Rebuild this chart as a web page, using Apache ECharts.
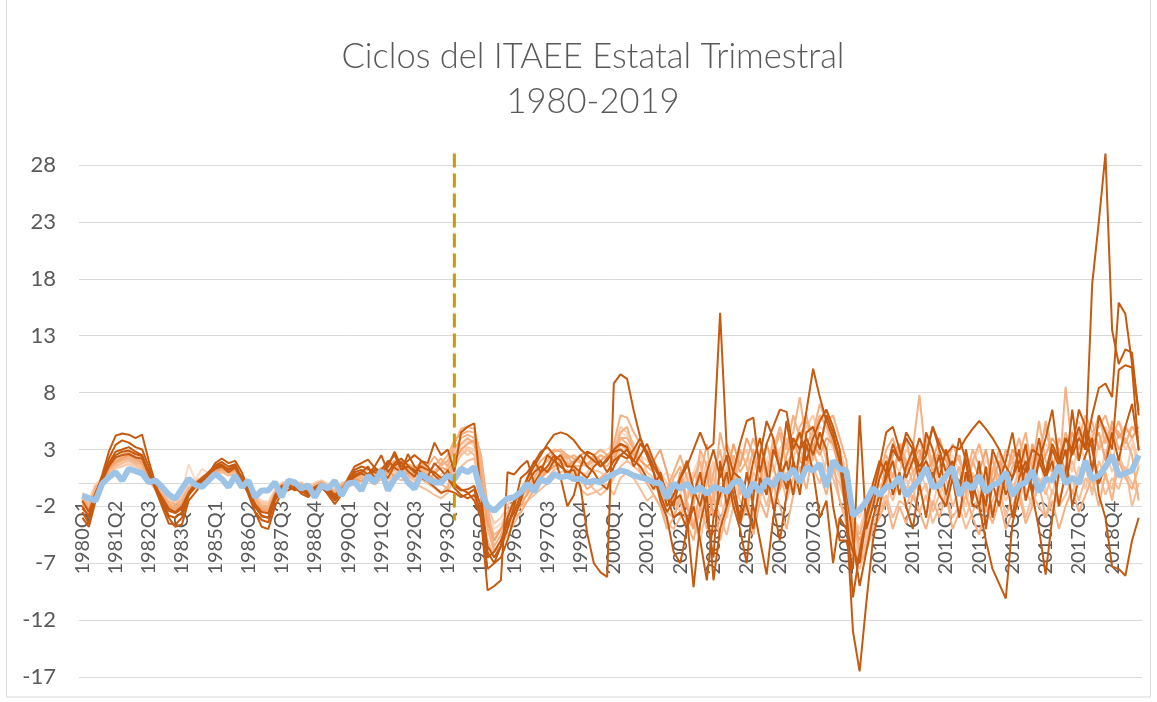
<!DOCTYPE html>
<html>
<head>
<meta charset="utf-8">
<title>Ciclos del ITAEE Estatal Trimestral</title>
<script src="https://cdn.jsdelivr.net/npm/echarts@6/dist/echarts.min.js"></script>
<style>
  html, body { margin: 0; padding: 0; background: #fff; }
  #chart { width: 1157px; height: 702px; }
</style>
</head>
<body>
<div id="chart"></div>
<script>
// trimestres 1980Q1 - 2019Q4
var quarters = [];
for (var y = 1980; y <= 2019; y++) {
  for (var q = 1; q <= 4; q++) quarters.push(y + 'Q' + q);
}
var yTicks = [-17, -12, -7, -2, 3, 8, 13, 18, 23, 28];
var breakQuarter = '1994Q1';
var breakRange = [29.0, -3.25];

// ciclo nacional (linea azul)
var nacional = [
  -1.05,-1.3,-1.5,0,0.55,1.0,0.27,1.3,1.1,0.9,0.12,0.27,-0.3,-0.95,-1.35,-0.45,0.42,-0.1,-0.3,0.27,
  0.86,0.42,-0.3,0.7,-0.3,0.27,-1.2,-0.6,-0.6,0.12,-1.2,0.27,0.1,-0.45,-0.15,-1.2,-0.15,-0.45,0.25,-1.05,
  0,0.1,-0.6,0.7,0.1,1.15,-0.6,0.4,1.0,0.1,-0.45,0.85,0.4,0.1,0.1,0.7,0.4,1.3,1.0,1.45,
  -0.8,-2.0,-2.4,-1.8,-1.3,-1.2,-0.75,0,-0.7,0.4,0.1,0.85,0.55,0.7,0.4,0.4,0.1,0.25,0.1,0.55,
  0.85,1.15,1.0,0.7,0.55,0.4,0.1,0.0,-1.3,0.0,-0.45,0.0,-0.75,-0.3,-0.9,-0.3,-0.45,-0.75,0.1,0.25,
  -1.2,0.1,-0.75,0.4,-0.2,0.85,0.4,1.3,0.1,1.45,1.15,1.75,-0.3,2.0,1.3,1.15,-2.8,-2.3,-1.6,-0.4,
  -1.0,-0.3,-0.2,0.6,-1.1,-0.3,0.3,1.4,-0.3,-0.17,0.7,1.45,-1.05,0.0,-0.45,0.7,-0.75,-0.15,0.1,1.0,
  -1.05,-0.15,0.1,1.15,-0.75,0.4,0.3,1.6,0.0,0.55,0.0,2.0,0.4,0.7,1.45,2.5,0.7,0.9,1.15,2.5
];

// ciclos estatales (tonos oscuros)
var estadoA = [
  -2.5,-3.5,-1.0,0.8,2.8,4.2,4.4,4.3,4.0,4.3, 2.0,0.0,-1.8,-3.0,-3.8,-3.6,-1.5,-0.8,0.0,0.8,
  1.8,2.2,1.8,2.0,1.0,-0.5,-2.5,-3.8,-4.0,-2.0, -0.8,-0.3,-0.5,-0.2,-1.0,-0.6,-0.4,-0.8,-1.5,-0.8,
  0.5,1.5,1.8,2.1,1.4,1.0,1.5,2.8,1.5,2.0, 2.5,2.0,1.8,3.6,2.5,3.0,1.0,4.5,5.0,5.3,
  -1.0,-6.0,-7.0,-6.5,-5.0,-3.0,-1.5,0.5,1.5,2.5, 3.5,4.3,4.5,4.3,3.8,3.0,2.5,2.0,1.5,2.2,
  2.8,3.0,2.5,2.0,3.5,2.8,1.5,0.5,-2.0,-1.0, 0.5,1.5,3.0,4.5,3.0,3.5,15.0,3.0,1.0,3.5,
  5.5,5.8,1.0,3.5,5.0,6.5,6.3,3.0,4.5,2.0, 4.0,5.5,6.5,5.0,3.0,-2.0,-10.0,-6.0,-3.0,0.0,
  2.0,1.0,3.5,2.0,4.0,3.0,1.5,2.5,5.0,3.5, 2.5,3.3,3.0,4.0,4.8,5.5,4.8,4.0,3.0,1.5,
  0.5,2.0,1.0,3.0,2.5,1.0,3.5,2.0,4.0,3.0, 5.0,3.0,17.5,23.0,29.0,13.5,10.5,11.8,11.5,6.0
];
var estadoB = [
  -3.0,-3.8,-1.5,0.5,2.2,3.4,3.8,3.6,3.2,3.0, 1.5,-0.5,-2.0,-3.5,-3.6,-3.0,-1.0,-0.3,0.2,1.0,
  1.6,1.9,1.5,1.7,0.5,-1.0,-2.5,-3.2,-3.4,-1.5, -0.5,-0.6,-0.3,-0.9,-1.2,-0.5,-0.2,-1.0,-1.8,-1.0,
  0.2,1.2,1.5,1.3,1.0,0.8,1.8,2.5,1.2,1.5, 1.2,0.5,0.2,-0.3,-0.8,-0.6,-0.8,-1.2,-0.9,-0.5,
  -3.0,-9.4,-9.0,-8.5,1.0,0.8,1.5,2.0,0.0,1.0, 2.5,2.0,1.5,1.0,1.2,-0.3,-4.4,-7.0,-7.8,-8.2,
  8.8,9.6,9.2,6.4,4.0,2.5,1.0,-1.0,-2.5,-1.5, -1.0,-3.0,-9.1,-3.5,-1.0,-8.5,-4.0,-2.0,1.0,0.5,
  -2.0,-4.0,0.5,-1.0,3.0,1.5,-0.5,4.0,3.0,6.4, 10.1,7.6,5.5,4.0,2.0,-3.0,-13.0,-16.5,-10.5,-5.0,
  -2.0,1.0,3.0,2.0,4.5,3.5,1.0,2.0,0.5,2.5, -1.0,1.5,0.0,2.0,-2.0,-2.0,-5.0,-7.5,-8.8,-10.1,
  -3.5,-1.0,1.5,-0.5,2.0,0.5,3.0,1.5,4.0,2.5, 4.0,3.0,6.0,8.4,8.8,7.6,15.9,14.9,10.5,6.4
];
var estadoC = [
  -2.0,-3.0,-1.0,0.5,1.8,2.8,3.0,3.2,2.8,2.5, 1.0,-0.5,-1.5,-2.8,-3.0,-2.5,-1.0,0.0,0.5,1.0,
  1.5,1.7,1.2,1.5,0.3,-0.8,-2.0,-2.8,-3.0,-1.2, -0.3,-0.1,-0.4,-0.7,-1.0,-0.3,0.0,-0.6,-1.3,-0.6,
  0.3,1.0,1.2,0.8,1.5,2.5,1.0,1.8,2.2,1.6, 1.0,1.5,1.2,1.0,0.5,0.8,0.0,-0.5,-0.8,-1.5,
  -3.0,-7.5,-7.0,-5.5,-4.0,-2.0,0.5,1.0,1.8,2.8, 3.2,2.5,0.5,-2.0,-1.0,1.5,2.8,2.5,1.5,2.0,
  3.0,3.5,3.2,1.5,2.5,3.5,2.0,0.5,-1.0,-3.0, -2.5,-4.0,-1.0,1.0,-3.0,-6.5,2.0,-2.0,0.0,-3.0,
  1.0,-2.0,-5.0,-8.0,-3.0,0.5,2.0,-1.0,3.0,4.0, 2.5,4.5,3.0,-2.0,-5.0,-5.0,-7.5,6.0,-4.0,-2.0,
  0.5,2.0,-1.0,1.0,-2.0,-4.0,0.0,-3.0,1.0,-1.0, -2.0,0.5,-3.0,1.0,-1.5,2.0,-4.0,0.0,-2.0,1.0,
  -3.0,0.5,2.0,-1.0,-4.0,-8.0,-3.0,1.0,3.0,-2.0, 0.5,2.5,4.0,-1.0,-3.0,-7.3,-7.5,-8.1,-5.0,-3.0
];
var estadoD = [
  -1.5,-2.5,-0.8,0.5,1.5,2.3,2.5,2.6,2.3,2.2, 0.8,-0.3,-1.2,-2.2,-2.5,-2.0,-0.8,0.0,0.3,0.8,
  1.3,1.5,1.0,1.4,0.4,-0.6,-1.8,-2.5,-2.6,-1.0, -0.2,-0.2,-0.5,-0.3,-0.8,-0.4,-0.1,-0.4,-1.0,-0.5,
  0.2,0.8,1.0,1.5,0.5,1.2,2.0,1.4,1.0,2.6, 1.5,1.0,0.6,1.8,1.2,0.5,-0.4,-1.0,-1.3,-1.0,
  -2.5,-6.5,-6.0,-5.0,-3.5,-2.5,-1.0,0.5,2.0,1.0, 1.5,2.5,2.0,0.5,1.8,2.5,1.5,1.0,0.0,-0.5,
  1.5,2.5,2.2,3.0,4.0,2.5,1.0,-1.5,-3.0,-6.0, -7.0,-4.0,-2.0,-5.0,-8.5,-3.0,-1.0,1.0,-2.0,-4.0,
  -7.0,-1.0,2.5,5.5,4.0,1.0,5.5,2.0,-1.0,3.5, 1.0,-3.0,-1.5,-7.0,-3.0,-4.0,-6.0,-7.0,-3.0,-1.0,
  1.5,4.5,5.0,3.0,0.5,2.0,4.0,2.5,5.0,3.0, 1.0,2.0,-1.0,3.0,0.0,-2.0,1.5,-3.0,0.0,2.0,
  4.5,1.0,3.5,-1.0,2.0,4.0,6.5,2.0,0.0,3.0, 6.5,5.0,1.0,6.0,4.5,3.0,10.0,10.4,10.2,2.9
];
var estadoE = [
  -2.2,-2.8,-1.2,0.2,1.6,2.5,2.8,2.9,2.6,2.4, 1.0,-0.2,-1.4,-2.4,-2.6,-2.2,-1.0,-0.2,0.4,0.9,
  1.4,1.6,1.3,1.6,0.5,-0.7,-2.0,-2.9,-3.0,-1.3, -0.4,-0.3,-0.6,-0.4,-1.1,-0.6,-0.2,-0.7,-1.2,-0.7,
  0.0,0.6,0.9,0.6,1.2,1.0,0.5,1.6,1.9,1.1, 0.6,2.0,1.5,0.7,0.2,1.2,-0.2,-0.6,-0.5,-0.2,
  -2.0,-5.5,-6.5,-5.5,-3.0,-1.5,-1.0,0.0,1.0,1.5, 1.0,2.0,2.5,1.5,1.5,1.0,0.5,1.5,2.0,1.0,
  2.0,2.5,3.0,2.0,1.5,0.5,-0.5,1.0,-1.0,-2.0, 0.5,2.0,-0.5,-2.0,1.0,3.0,0.5,2.5,-1.0,-3.5,
  -1.0,2.0,4.0,1.0,-2.0,-5.0,-1.0,2.0,0.0,4.5, 5.0,3.0,6.0,4.5,2.0,-0.5,-5.0,-9.0,-6.0,-3.0,
  -1.0,0.5,2.0,-1.0,1.5,3.0,0.0,4.5,3.0,0.5, 3.0,1.0,4.0,2.0,-1.0,0.5,-2.0,3.0,1.5,-1.0,
  0.5,3.0,-1.5,1.0,4.0,0.5,2.0,-2.0,1.0,6.5, 2.0,5.0,3.0,0.0,1.5,4.5,2.0,5.0,7.0,3.0
];

// ciclos estatales (tonos claros)
var estadoF = [
  -1.8,-2.3,-0.6,0.4,1.4,2.0,2.3,2.4,2.1,1.9, 0.6,-0.3,-1.0,-1.8,-2.0,-1.7,-0.6,0.1,0.4,0.8,
  1.2,1.4,1.1,1.3,0.4,-0.5,-1.6,-2.2,-2.3,-0.9, -0.2,0.0,-0.4,-0.2,-0.7,-0.3,0.0,-0.4,-1.1,-0.4,
  0.1,0.5,0.7,0.9,0.6,1.0,1.4,1.8,1.0,1.3, 1.0,1.4,1.0,1.6,2.2,1.5,3.0,4.0,4.3,4.0,
  1.5,-3.0,-5.5,-4.5,-3.0,-2.0,-1.2,-0.5,0.5,1.5, 2.0,2.8,3.0,2.5,2.2,1.8,1.5,2.0,2.5,2.2,
  3.5,6.0,5.8,4.5,3.5,2.5,1.5,0.5,-0.5,1.0, 2.5,0.5,-2.0,3.0,1.5,-1.0,4.5,2.0,0.0,3.0,
  1.5,-1.5,2.5,0.5,4.0,2.0,3.5,4.5,7.6,3.5, 4.5,6.0,5.0,3.5,1.0,-1.0,-4.0,-5.5,-3.0,-1.5,
  0.5,3.0,4.0,2.0,1.0,3.0,7.8,2.0,0.5,1.5, 2.5,0.0,1.5,-1.0,2.0,0.5,-2.0,1.0,3.0,-0.5,
  1.5,2.5,4.5,1.0,3.0,5.0,2.0,0.5,8.5,3.0, 2.0,4.5,5.5,3.0,4.0,5.0,4.5,3.5,5.0,4.0
];
var estadoG = [
  -1.2,-2.0,-0.3,0.3,1.2,1.8,2.0,2.2,1.9,1.7, 0.4,-0.2,-0.9,-1.6,-1.8,-1.4,-0.4,0.0,0.3,0.7,
  1.0,1.2,1.0,1.1,0.3,-0.4,-1.3,-1.9,-2.0,-0.8, -0.1,0.1,-0.2,-0.1,-0.6,-0.2,0.1,-0.3,-0.8,-0.2,
  -0.2,0.3,0.5,0.4,1.0,0.7,0.9,1.2,1.6,0.8, 0.5,1.2,0.8,0.4,0.0,-0.5,2.5,3.5,4.0,3.5,
  1.0,-4.0,-6.0,-5.0,-3.5,-2.5,-1.5,-1.0,0.0,0.8, 1.5,2.0,2.2,1.8,1.6,1.5,1.8,2.2,1.8,1.5,
  2.5,4.5,5.0,3.0,2.0,1.5,1.0,-0.5,-2.0,-1.0, 0.0,2.0,-1.0,0.5,3.5,-1.5,1.0,3.5,2.0,-1.0,
  0.5,3.0,1.0,-1.0,2.5,4.5,1.5,3.0,5.0,6.0, 3.0,5.5,6.5,4.0,2.5,0.5,-2.5,-6.0,-4.0,-2.0,
  -1.0,1.5,0.5,3.5,2.0,0.0,2.5,4.0,1.5,3.0, 1.0,3.5,2.0,0.5,3.0,1.5,0.0,2.5,-1.0,1.0,
  2.0,0.5,3.0,1.5,5.5,2.0,1.0,4.0,2.5,3.5, 4.5,3.0,4.0,6.0,3.5,5.0,3.0,4.0,2.5,-1.5
];
var estadoH = [
  -1.0,-1.6,-0.2,0.5,1.0,1.6,1.8,2.0,1.8,1.5, 0.5,0.0,-0.6,-1.3,-1.5,-1.1,-0.2,0.2,0.6,0.9,
  1.1,1.3,0.9,1.0,0.4,-0.3,-1.1,-1.7,-1.8,-0.6, 0.0,0.2,-0.1,0.1,-0.4,0.0,0.2,-0.2,-0.6,0.0,
  0.0,0.4,0.6,0.9,0.7,1.3,0.8,1.0,1.3,1.0, 0.7,0.9,0.5,0.2,0.8,1.5,3.5,3.0,2.5,3.0,
  2.5,-2.0,-3.5,-3.0,-2.0,-1.0,-1.5,-0.2,0.5,1.2, 1.0,1.8,2.6,2.0,1.2,0.5,1.0,1.8,2.5,2.0,
  3.0,5.0,4.5,3.5,2.5,1.0,0.5,1.0,0.0,-1.5, -2.5,-1.0,1.0,-0.5,2.0,0.5,-2.0,1.5,-0.5,2.0,
  3.0,0.0,-1.5,2.0,1.0,3.0,4.0,2.0,4.5,5.0, 6.0,4.0,3.0,5.0,3.0,1.0,-3.0,-4.0,-2.0,-0.5,
  1.0,-0.5,2.0,1.0,3.0,2.5,0.5,1.0,2.5,-0.5, -2.0,0.5,1.0,-1.0,0.5,-2.5,-1.0,1.5,0.0,-1.5,
  0.0,-2.0,1.0,2.5,0.0,1.0,-1.0,2.0,3.0,1.0, 3.5,2.0,1.0,3.5,5.0,2.0,4.5,3.0,4.0,2.0
];
var estadoI = [
  -1.3,-1.8,-0.5,0.2,1.1,1.7,2.1,2.3,2.0,1.6, 0.3,-0.4,-1.1,-1.9,-2.1,-1.6,-0.7,-0.2,0.2,0.6,
  0.9,1.1,0.8,0.9,0.2,-0.6,-1.5,-2.0,-2.1,-1.0, -0.3,-0.1,-0.3,-0.2,-0.9,-0.5,-0.1,-0.5,-0.9,-0.3,
  0.1,0.2,0.3,0.5,0.3,0.6,0.4,0.7,0.9,0.6, 0.3,0.4,0.0,-0.4,-0.9,-0.2,1.5,2.5,3.0,2.5,
  0.0,-3.5,-4.5,-4.0,-3.5,-2.8,-2.0,-1.5,-0.5,0.0, 0.5,1.2,1.5,1.0,0.8,0.5,0.2,-0.5,-1.0,-0.5,
  0.5,1.5,2.0,1.5,1.0,0.5,0.0,-1.0,-2.5,-3.0, -1.5,-3.0,-4.0,-2.0,-0.5,-2.5,-3.5,-1.0,1.5,0.0,
  -2.0,1.0,0.0,-2.0,0.5,1.0,-1.5,0.5,2.0,3.5, 2.0,4.5,2.0,1.0,0.0,-2.0,-5.0,-7.0,-5.0,-3.0,
  -2.0,0.0,-1.5,0.5,-0.5,1.0,-1.0,0.0,-2.5,-1.0, 0.5,-2.0,-0.5,-3.0,-1.0,0.5,-2.5,-1.5,0.0,-3.0,
  -1.0,1.5,-0.5,-2.0,0.5,-1.0,1.0,-1.5,0.5,2.0, 0.0,1.5,-1.0,2.0,0.5,-0.5,2.5,1.0,0.0,-1.0
];
var estadoJ = [
  -1.6,-2.2,-0.9,0.1,1.3,1.9,2.2,2.5,2.2,1.8, 0.5,-0.4,-1.3,-2.0,-2.2,-1.8,-0.8,-0.1,0.3,0.7,
  1.1,1.3,1.0,1.2,0.3,-0.6,-1.7,-2.3,-2.4,-1.1, -0.3,0.0,-0.3,-0.2,-0.8,-0.4,0.0,-0.3,-1.0,-0.3,
  0.0,0.4,0.2,0.6,0.4,0.8,1.2,0.6,0.8,0.9, 0.9,0.6,0.3,0.9,1.4,1.2,2.0,3.0,3.5,3.8,
  0.5,-3.5,-5.0,-4.0,-3.0,-2.0,-2.0,-0.8,0.0,0.5, 1.2,1.5,1.8,1.5,2.0,2.5,2.8,2.5,2.0,2.5,
  2.0,3.5,3.0,2.5,2.0,1.5,2.0,3.0,1.0,-1.5, 1.0,-2.0,-4.0,-0.5,1.0,-3.0,-1.0,0.5,3.5,1.5,
  4.0,2.5,0.0,3.5,1.5,-0.5,2.5,4.0,2.0,1.5, 3.5,2.5,4.0,3.5,1.5,-1.0,-3.5,-5.0,-3.5,-1.0,
  2.0,0.0,2.5,3.5,1.5,2.0,3.0,1.0,2.0,4.0, 2.0,1.0,-1.0,2.5,0.5,1.0,3.0,0.0,2.0,0.5,
  3.0,2.0,0.0,3.5,1.5,2.5,4.0,3.0,1.0,4.5, 3.0,5.0,3.5,4.5,2.0,5.5,4.0,5.0,4.0,5.0
];
var estadoK = [
  -0.8,-1.4,0.0,0.4,0.9,1.4,1.6,1.8,1.6,1.4, 0.6,0.1,-0.4,-1.0,-1.2,-0.8,1.7,0.3,1.3,0.9,
  1.0,1.1,0.9,1.0,0.5,-0.2,-1.0,-1.5,-1.6,-0.5, 0.1,0.2,0.0,0.1,-0.3,0.1,0.3,0.0,-0.5,0.1,
  0.2,0.5,0.8,0.7,0.9,1.1,1.0,0.8,1.2,1.5, 1.2,1.0,0.8,1.2,1.5,2.0,2.8,3.3,3.8,3.2,
  0.5,-2.5,-4.0,-3.5,-2.5,-1.5,-0.5,0.2,0.8,1.5, 2.0,2.2,2.5,2.0,1.8,2.0,2.2,2.5,2.8,3.0,
  3.5,4.5,4.2,3.0,2.5,2.0,1.5,0.5,1.0,0.5, 1.5,0.0,1.0,2.5,0.5,1.5,2.0,0.0,1.0,2.5,
  2.0,1.0,3.0,2.0,3.5,2.5,4.0,3.0,4.5,5.0, 4.0,5.0,4.5,3.0,2.0,0.0,-2.0,-3.0,-1.5,0.0,
  1.0,2.0,1.5,2.5,3.0,2.0,3.5,2.5,3.0,2.0, 1.5,2.5,1.0,2.0,1.5,3.0,2.0,1.0,2.5,1.5,
  2.5,1.5,3.0,2.0,2.5,3.5,2.5,4.0,3.0,4.5, 5.5,3.5,4.5,3.0,5.0,4.0,5.5,4.5,5.0,4.5
];
var estadoL = [
  -2.0,-2.6,-1.0,0.0,1.0,1.5,1.8,2.0,1.7,1.3, 0.2,-0.5,-1.2,-2.0,-2.3,-1.9,-1.0,-0.4,0.1,0.5,
  0.8,1.0,0.7,0.8,0.0,-0.8,-1.8,-2.4,-2.5,-1.2, -0.4,-0.2,-0.5,-0.3,-1.0,-0.6,-0.2,-0.6,-1.2,-0.7,
  -0.3,0.0,0.2,0.3,-0.1,0.4,0.1,0.5,0.3,0.4, 0.0,-0.3,-0.6,-1.0,-1.3,-0.8,0.5,1.5,2.0,2.2,
  -1.0,-5.0,-6.5,-5.5,-4.5,-3.5,-2.5,-1.5,-1.0,-0.5, 0.0,0.5,1.0,1.2,0.8,-0.5,-1.0,-0.8,-0.5,0.0,
  -1.0,0.5,1.0,0.5,-0.5,-1.5,-1.0,-2.0,-3.5,-4.0, -3.0,-1.5,-3.5,-5.0,-2.0,-1.0,-3.0,-4.5,-2.0,-0.5,
  -1.5,-3.0,-1.0,0.0,-2.0,-0.5,1.0,-1.0,0.5,2.0, 1.5,0.0,2.0,0.5,-1.5,-3.5,-6.5,-7.5,-5.5,-3.5,
  -2.5,-1.0,-3.0,-1.5,-2.0,-0.5,-2.5,-1.0,-3.5,-2.0, -1.0,-3.0,-2.0,-4.0,-2.5,-1.0,-3.5,-2.0,-1.0,-2.5,
  -2.0,-0.5,-3.0,-1.0,-2.0,-3.0,-0.5,-2.0,-1.0,0.5, -1.5,0.5,-0.5,1.0,-1.0,0.5,-0.5,1.5,-2.0,0.0
];
var estadoM = [
  -1.4,-2.1,-0.7,0.3,1.3,2.0,2.4,2.6,2.3,2.0, 0.7,-0.2,-1.1,-1.9,-2.1,-1.6,-0.5,0.1,0.5,0.9,
  1.3,1.5,1.2,1.4,0.6,-0.4,-1.5,-2.1,-2.2,-0.9, -0.1,0.1,-0.3,0.0,-0.5,-0.1,0.2,-0.2,-0.7,-0.1,
  0.3,0.7,1.0,1.2,0.9,1.4,1.1,1.5,2.0,1.4, 1.2,1.6,1.3,0.9,1.8,2.5,3.8,4.3,4.6,4.5,
  2.0,-2.5,-5.0,-4.0,-2.5,-1.5,-0.5,0.5,1.0,2.0, 2.5,3.0,2.8,2.2,2.5,2.0,1.5,2.5,3.0,2.5,
  3.0,4.0,3.5,2.5,3.5,3.0,2.0,1.0,-1.5,0.5, 1.5,-1.5,0.5,2.0,-2.0,1.0,3.0,-0.5,2.5,1.0,
  2.0,4.0,2.0,1.0,3.0,5.0,3.0,6.0,4.0,5.5, 4.5,7.0,5.5,6.0,4.0,2.0,-3.0,-4.5,-2.5,-1.0,
  1.5,2.5,0.5,3.0,4.0,1.0,2.0,3.5,1.0,2.5, 3.0,1.5,2.5,0.0,2.0,3.5,1.0,2.0,0.5,3.0,
  2.0,4.0,1.5,3.0,2.0,5.5,3.0,2.0,4.5,3.0, 4.0,6.0,4.5,5.0,6.0,4.0,5.5,3.5,5.0,4.5
];
var estadoN = [
  -0.9,-1.5,-0.4,0.2,0.8,1.3,1.5,1.7,1.5,1.2, 0.3,-0.2,-0.8,-1.4,-1.6,-1.2,-0.5,0.0,0.3,0.6,
  0.9,1.0,0.8,0.9,0.3,-0.4,-1.2,-1.6,-1.7,-0.7, -0.2,0.0,-0.2,0.0,-0.5,-0.2,0.1,-0.2,-0.7,-0.2,
  0.0,0.3,0.5,0.6,0.5,0.8,0.6,0.9,1.1,0.8, 0.6,0.8,0.6,0.4,0.2,0.6,2.0,2.8,3.2,3.0,
  1.0,-3.0,-4.5,-4.0,-3.0,-2.0,-1.0,-0.5,0.3,0.8, 1.2,1.5,2.0,1.7,1.5,1.0,0.8,1.2,1.0,0.5,
  1.5,3.0,3.5,2.5,1.5,1.0,0.5,0.0,-1.0,-2.0, -1.0,1.0,-2.0,-3.0,0.0,2.0,-1.5,-3.0,0.5,-1.5,
  -2.5,0.0,1.5,-0.5,-2.0,2.0,0.5,-1.0,3.0,1.5, 2.5,3.0,1.0,2.0,0.5,-1.5,-4.0,-6.5,-4.5,-2.0,
  0.0,-2.0,1.0,-1.0,0.5,-1.5,1.5,-0.5,-2.0,0.5, -1.5,1.0,-0.5,-2.0,1.0,-1.0,0.5,-2.5,-0.5,1.0,
  -0.5,1.0,-1.5,0.5,2.5,-0.5,-2.5,0.5,1.5,-1.0, 1.5,-0.5,2.0,0.0,3.0,1.0,2.5,0.5,3.5,1.5
];
var estadoO = [
  -1.9,-2.4,-1.1,0.2,1.5,2.2,2.6,2.8,2.4,2.1, 0.8,-0.3,-1.4,-2.2,-2.4,-2.0,-0.9,-0.2,0.3,0.8,
  1.2,1.5,1.2,1.5,0.6,-0.5,-1.7,-2.4,-2.6,-1.2, -0.4,-0.2,-0.4,-0.3,-0.9,-0.5,-0.1,-0.6,-1.0,-0.4,
  -0.1,0.6,0.9,0.8,1.3,0.9,1.6,2.0,1.4,1.7, 1.4,1.8,1.5,2.4,1.6,2.0,3.5,4.8,5.0,4.8,
  2.5,-2.0,-6.0,-5.5,-4.0,-3.0,-2.5,-1.5,-0.5,0.5, 1.0,1.5,2.0,2.5,1.5,0.5,-0.5,0.0,0.5,1.0,
  2.0,4.0,4.0,3.0,1.0,0.0,-1.0,-2.0,-4.0,-3.0, -1.0,-3.5,-5.0,-2.0,-4.0,-1.0,-5.0,-2.5,-1.0,-3.5,
  -2.0,-4.5,-1.5,-3.0,0.0,-2.0,-4.0,-1.0,1.5,-0.5, 3.0,1.0,-1.0,2.0,-1.5,-3.0,-5.5,-7.0,-6.0,-4.0,
  -3.0,-1.5,-4.0,-2.0,-3.5,-1.0,-2.5,-4.0,-1.5,-3.0, -1.0,-4.0,-2.5,-1.0,-3.0,-4.5,-2.0,-3.5,-1.5,-4.0,
  -2.5,-1.0,-3.5,-2.0,0.0,-3.0,-1.5,-4.0,-2.0,-0.5, -2.5,-1.0,0.5,-2.0,1.0,-1.5,2.0,0.5,-0.5,1.5
];

var claros = [
  { data: estadoK, color: '#FADAC4' },
  { data: estadoN, color: '#F8CBAD' },
  { data: estadoH, color: '#F8CBAD' },
  { data: estadoI, color: '#F6BE98' },
  { data: estadoL, color: '#F6BE98' },
  { data: estadoO, color: '#F4B183' },
  { data: estadoF, color: '#F4B183' },
  { data: estadoM, color: '#F4B183' },
  { data: estadoG, color: '#F4B183' },
  { data: estadoJ, color: '#F1A46F' }
];
var oscuros = [estadoE, estadoD, estadoC, estadoB, estadoA];

var chart = echarts.init(document.getElementById('chart'));

var gridTop = 165;
var gridBottom = 25;
var gridHeight = 702 - gridTop - gridBottom;
var yMin = yTicks[0];
var yMax = yTicks[yTicks.length - 1];
// el eje horizontal cruza en cero
var zeroOffset = -(0 - yMin) / (yMax - yMin) * gridHeight;

var series = [];
claros.forEach(function(s, i) {
  series.push({
    name: 'claro' + i,
    type: 'line',
    data: s.data,
    symbol: 'none',
    clip: false,
    lineStyle: { color: s.color, width: 2 }
  });
});
oscuros.forEach(function(d, i) {
  series.push({
    name: 'oscuro' + i,
    type: 'line',
    data: d,
    symbol: 'none',
    clip: false,
    lineStyle: { color: '#C55A11', width: 2 }
  });
});
series.push({
  name: 'Nacional',
  type: 'line',
  data: nacional,
  symbol: 'none',
  clip: false,
  lineStyle: { color: '#9DC3E6', width: 6 }
});
// linea punteada vertical
series.push({
  name: 'corte',
  type: 'line',
  data: [[breakQuarter, breakRange[0]], [breakQuarter, breakRange[1]]],
  symbol: 'none',
  clip: false,
  lineStyle: { color: '#C99A06', width: 3, type: [14, 6] }
});

var option = {
  animation: false,
  textStyle: { fontFamily: 'Lato, "Noto Sans", sans-serif' },
  title: {
    text: 'Ciclos del ITAEE Estatal Trimestral\n1980-2019',
    left: 588,
    textAlign: 'center',
    top: 29,
    textStyle: {
      color: '#595959',
      fontSize: 34.5,
      fontWeight: 300,
      lineHeight: 45
    }
  },
  grid: {
    left: 79,
    right: 15,
    top: gridTop,
    bottom: gridBottom,
    outerBoundsMode: 'none'
  },
  xAxis: {
    type: 'category',
    data: quarters,
    boundaryGap: true,
    offset: zeroOffset,
    axisLine: { onZero: false, lineStyle: { color: '#D9D9D9', width: 1 } },
    axisTick: { show: false },
    axisLabel: {
      interval: 4,
      rotate: 90,
      margin: 17,
      color: '#595959',
      fontSize: 20
    },
    splitLine: { show: false }
  },
  yAxis: {
    type: 'value',
    min: yMin,
    max: yMax,
    interval: 5,
    axisLine: { show: false },
    axisTick: { show: false },
    axisLabel: { color: '#595959', fontSize: 22, margin: 23 },
    splitLine: { lineStyle: { color: '#D9D9D9', width: 1 } }
  },
  graphic: [{
    type: 'rect',
    shape: { x: 6.5, y: -2, width: 1144, height: 699 },
    style: { fill: 'none', stroke: '#D9D9D9', lineWidth: 1 },
    silent: true
  }],
  series: series
};

chart.setOption(option);
</script>
</body>
</html>
